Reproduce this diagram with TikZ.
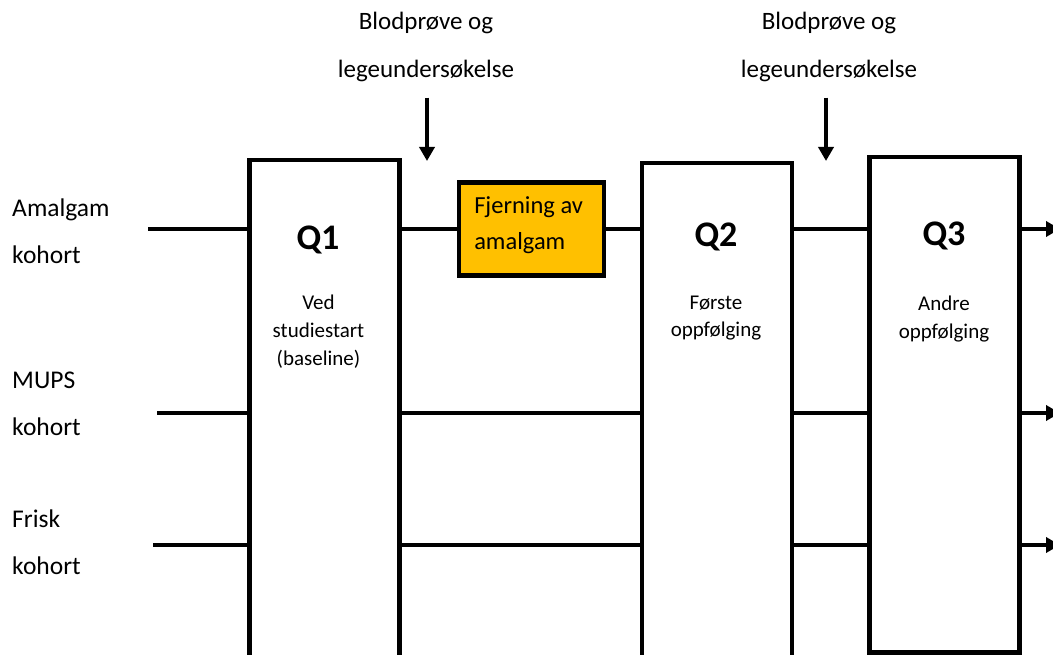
\documentclass[tikz,border=0pt]{standalone}
\usepackage{fontspec}
\setmainfont{Carlito}
\usetikzlibrary{arrows.meta}
\definecolor{amalgamorange}{HTML}{FFC000}

\begin{document}
\begin{tikzpicture}[x=1pt, y=-1pt, line width=4.5pt,
    qbox/.style={draw, inner sep=0pt, minimum width=150pt, anchor=north},
    stepbox/.style={draw, fill=amalgamorange, inner sep=0pt, minimum width=145pt, minimum height=93pt},
    lbl/.style={inner sep=0pt, font=\fontsize{25.5}{47}\selectfont, align=left},
    toplbl/.style={inner sep=0pt, font=\fontsize{25}{48}\selectfont, align=center},
    sub/.style={inner sep=0pt, font=\fontsize{21}{28}\selectfont, align=center},
    qname/.style={inner sep=0pt, font=\fontsize{36}{43}\selectfont\bfseries},
    arr/.style={-{Triangle[width=15pt,length=14pt]}}]
  \useasboundingbox (0,0) rectangle (1053,655);
  \clip (0,0) rectangle (1053,655);

  % Boxes
  \node[qbox, minimum height=600pt] (q1) at (324.5,158) {};
  \node[qbox, minimum height=600pt] (q2) at (717,161) {};
  \node[qbox, minimum height=495pt] (q3) at (944.5,155) {};
  \node[stepbox] (fj) at (531.5,229) {};

  % Texts (base = last line)
  \node[qname, anchor=base] (q1t) at (318,250) {Q1};
  \node[qname, anchor=base] (q2t) at (716,247) {Q2};
  \node[qname, anchor=base] (q3t) at (944,246) {Q3};
  \node[sub, anchor=base] (q1s) at (318.5,365) {Ved\\studiestart\\(baseline)};
  \node[sub, anchor=base] (q2s) at (716,337) {Første\\oppfølging};
  \node[sub, anchor=base] (q3s) at (944,338) {Andre\\oppfølging};
  \node[lbl, anchor=base west, font=\fontsize{24.5}{36}\selectfont] (fjt) at (472,250) {Fjerning av\\amalgam};

  \node[lbl, anchor=base west] (am) at (10,264) {Amalgam\\kohort};
  \node[lbl, anchor=base west] (mu) at (10,435) {MUPS\\kohort};
  \node[lbl, anchor=base west] (fr) at (10,574) {Frisk\\kohort};

  \node[toplbl, anchor=base] (blod1) at (426,78) {Blodprøve og\\legeundersøkelse};
  \node[toplbl, anchor=base] (blod2) at (829,78) {Blodprøve og\\legeundersøkelse};

  % Down arrows
  \coordinate (tip1) at (427,161);
  \coordinate (tip2) at (826,161);
  \draw[arr, shorten <=13pt] (blod1.south -| tip1) -- (tip1);
  \draw[arr, shorten <=13pt] (blod2.south -| tip2) -- (tip2);

  % Cohort lines
  \coordinate (am-start) at (148,229);
  \coordinate (mu-start) at (157,413);
  \coordinate (fr-start) at (153,545);
  \coordinate (am-end) at (1060,229);
  \coordinate (mu-end) at (1060,413);
  \coordinate (fr-end) at (1060,545);

  \draw (am-start) -- (am-start -| q1.west);
  \draw (q1.east |- am-start) -- (fj.west);
  \draw (fj.east) -- (fj.east -| q2.west);
  \draw (q2.east |- am-start) -- (am-start -| q3.west);
  \draw[arr] (q3.east |- am-start) -- (am-end);

  \foreach \c in {mu,fr} {
    \draw (\c-start) -- (\c-start -| q1.west);
    \draw (q1.east |- \c-start) -- (\c-start -| q2.west);
    \draw (q2.east |- \c-start) -- (\c-start -| q3.west);
    \draw[arr] (q3.east |- \c-start) -- (\c-end);
  }
\end{tikzpicture}
\end{document}
